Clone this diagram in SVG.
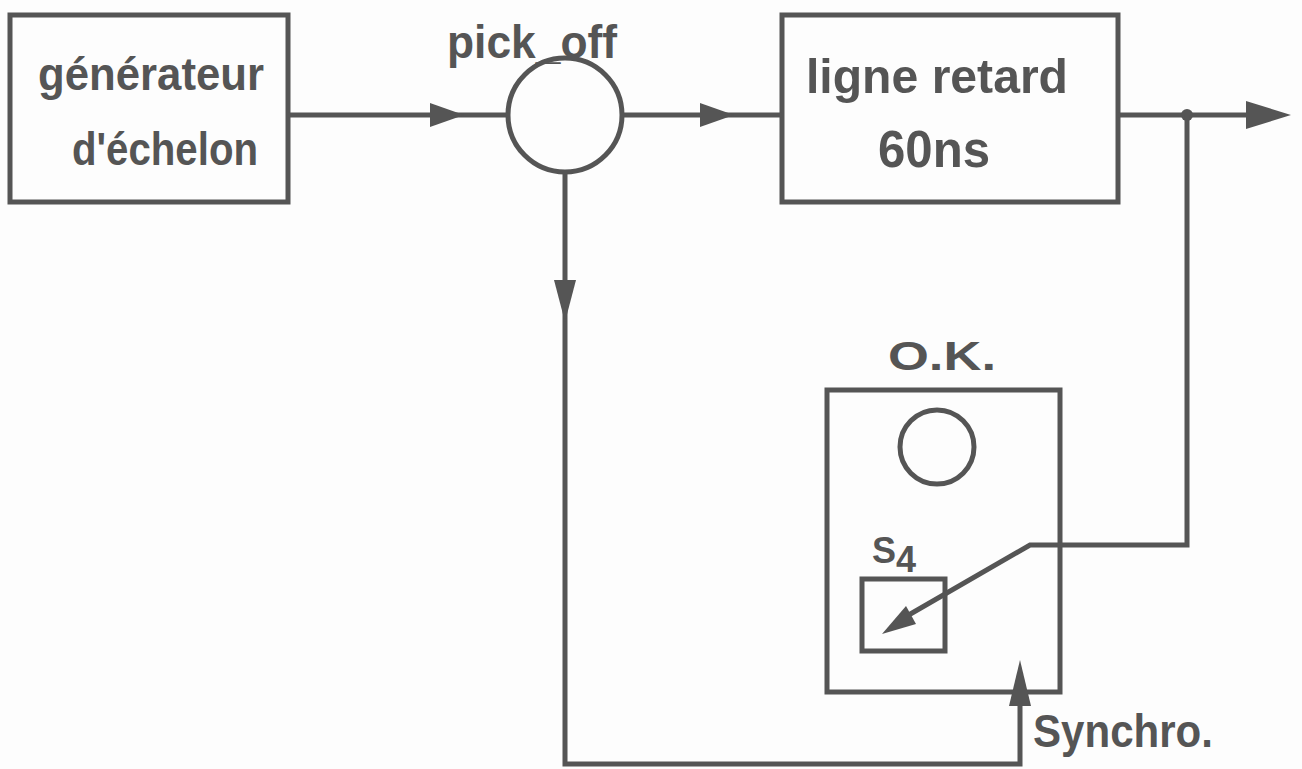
<svg xmlns="http://www.w3.org/2000/svg" width="1302" height="769" viewBox="0 0 1302 769">
<style>
.s{fill:none;stroke:#555;stroke-width:5}
.t{font-family:"Liberation Sans",Arial,sans-serif;font-weight:bold;fill:#555}
</style>
<rect width="1302" height="769" fill="#fdfdfd"/>
<g id="gen">
<rect class="s" x="10" y="15" width="278" height="187"/>
<text class="t" x="38" y="90" font-size="46" textLength="226" lengthAdjust="spacingAndGlyphs">générateur</text>
<text class="t" x="72" y="165" font-size="46" textLength="186" lengthAdjust="spacingAndGlyphs">d'échelon</text>
</g>
<g id="pickoff">
<circle class="s" cx="565" cy="115" r="57"/>
<text class="t" x="447" y="58" font-size="46" textLength="170" lengthAdjust="spacingAndGlyphs">pick_off</text>
</g>
<g id="ligne">
<rect class="s" x="782" y="15" width="336" height="187"/>
<text class="t" x="806" y="93" font-size="48" textLength="262" lengthAdjust="spacingAndGlyphs">ligne  retard</text>
<text class="t" x="878" y="167" font-size="52" textLength="112" lengthAdjust="spacingAndGlyphs">60ns</text>
</g>
<g id="ok">
<rect class="s" x="827" y="390" width="233" height="302"/>
<circle class="s" cx="937" cy="447" r="37"/>
<text class="t" x="888" y="370" font-size="40" textLength="108" lengthAdjust="spacingAndGlyphs">O.K.</text>
<rect class="s" x="862" y="579" width="83" height="72"/>
<text class="t" x="872" y="563" font-size="36">S<tspan dy="9">4</tspan></text>
</g>
<g id="synchro">
<text class="t" x="1033" y="747" font-size="46" textLength="180" lengthAdjust="spacingAndGlyphs">Synchro.</text>
</g>
<g id="connectors">
<path class="s" d="M288,115 H508"/>
<path d="M430,103 L464,115 L430,127 Z" fill="#555"/>
<path class="s" d="M622,115 H782"/>
<path d="M700,103 L734,115 L700,127 Z" fill="#555"/>
<path class="s" d="M1118,115 H1250"/>
<path d="M1246,101 L1291,115 L1246,129 Z" fill="#555"/>
<circle cx="1187" cy="115" r="6" fill="#555"/>
<path class="s" d="M1187,115 V545 H1030 L900,620"/>
<path d="M882,634 L906,606 L916,624 Z" fill="#555"/>
<path class="s" d="M565,172 V764 H1020 V700"/>
<path d="M554,280 L565,322 L576,280 Z" fill="#555"/>
<path d="M1009,706 L1020,660 L1031,706 Z" fill="#555"/>
</g>
</svg>
